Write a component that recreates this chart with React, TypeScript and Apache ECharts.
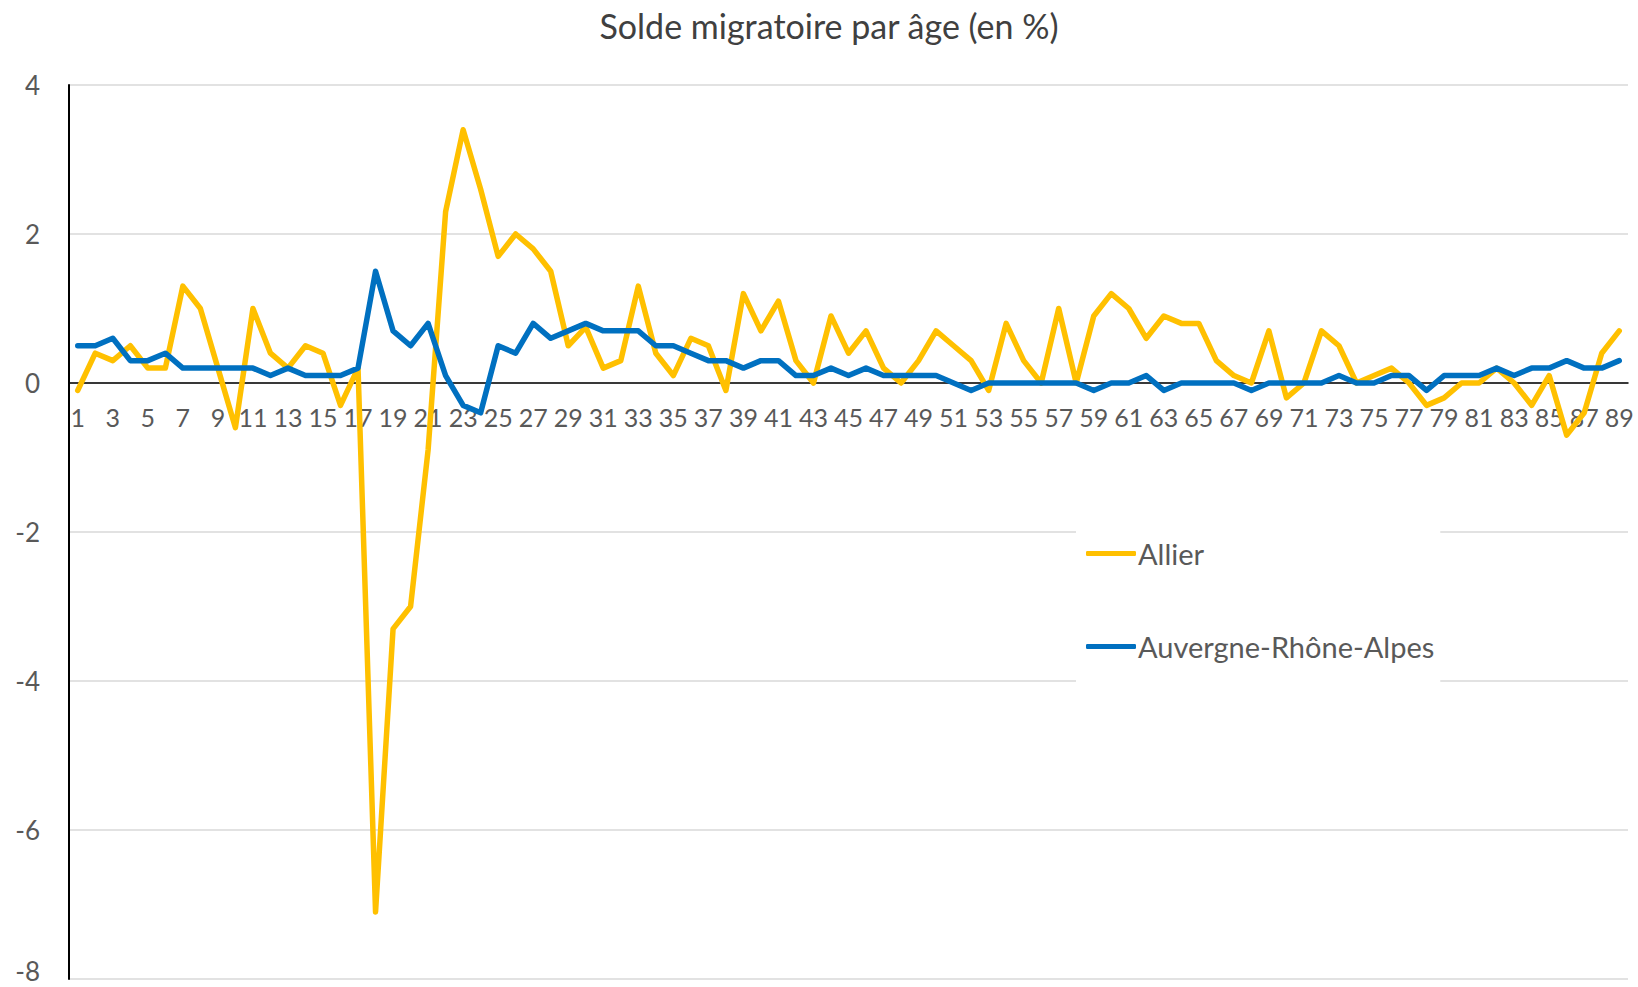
import React, { useEffect, useRef } from "react";
import * as echarts from "echarts";

const ages: string[] = Array.from({ length: 89 }, (_, i) => String(i + 1));

const allier: number[] = [
  -0.1, 0.4, 0.3, 0.5, 0.2, 0.2, 1.3, 1.0, 0.2, -0.6,
  1.0, 0.4, 0.2, 0.5, 0.4, -0.3, 0.2, -7.1, -3.3, -3.0,
  -0.9, 2.3, 3.4, 2.6, 1.7, 2.0, 1.8, 1.5, 0.5, 0.75,
  0.2, 0.3, 1.3, 0.4, 0.1, 0.6, 0.5, -0.1, 1.2, 0.7,
  1.1, 0.3, 0.0, 0.9, 0.4, 0.7, 0.2, 0.0, 0.3, 0.7,
  0.5, 0.3, -0.1, 0.8, 0.3, 0.0, 1.0, 0.0, 0.9, 1.2,
  1.0, 0.6, 0.9, 0.8, 0.8, 0.3, 0.1, 0.0, 0.7, -0.2,
  0.0, 0.7, 0.5, 0.0, 0.1, 0.2, 0.0, -0.3, -0.2, 0.0,
  0.0, 0.2, 0.0, -0.3, 0.1, -0.7, -0.4, 0.4, 0.7,
];

const auvergneRhoneAlpes: number[] = [
  0.5, 0.5, 0.6, 0.3, 0.3, 0.4, 0.2, 0.2, 0.2, 0.2,
  0.2, 0.1, 0.2, 0.1, 0.1, 0.1, 0.2, 1.5, 0.7, 0.5,
  0.8, 0.1, -0.3, -0.4, 0.5, 0.4, 0.8, 0.6, 0.7, 0.8,
  0.7, 0.7, 0.7, 0.5, 0.5, 0.4, 0.3, 0.3, 0.2, 0.3,
  0.3, 0.1, 0.1, 0.2, 0.1, 0.2, 0.1, 0.1, 0.1, 0.1,
  0.0, -0.1, 0.0, 0.0, 0.0, 0.0, 0.0, 0.0, -0.1, 0.0,
  0.0, 0.1, -0.1, 0.0, 0.0, 0.0, 0.0, -0.1, 0.0, 0.0,
  0.0, 0.0, 0.1, 0.0, 0.0, 0.1, 0.1, -0.1, 0.1, 0.1,
  0.1, 0.2, 0.1, 0.2, 0.2, 0.3, 0.2, 0.2, 0.3,
];

const seriesNames = ["Allier", "Auvergne-Rhône-Alpes"];
const seriesColors = ["#FFC000", "#0070C0"];
const titleText = "Solde migratoire par âge (en %)";

const FONT = "Lato";
const Y_MIN = -8;
const Y_MAX = 4;
const GRID_TOP = 85;
const GRID_BOTTOM = 8;
const CHART_H = 987;

export default function App() {
  const ref = useRef<HTMLDivElement>(null);

  useEffect(() => {
    if (!ref.current) return;
    const chart = echarts.init(ref.current, null, { renderer: "svg" });
    const plotH = CHART_H - GRID_TOP - GRID_BOTTOM;
    const zeroFromBottom = (plotH * (0 - Y_MIN)) / (Y_MAX - Y_MIN);
    chart.setOption({
      animation: false,
      backgroundColor: "#ffffff",
      textStyle: { fontFamily: FONT },
      title: {
        text: titleText,
        left: 829,
        textAlign: "center",
        top: 8,
        padding: 0,
        textStyle: {
          fontFamily: FONT,
          fontSize: 34,
          fontWeight: "normal",
          color: "#404040",
        },
      },
      legend: {
        orient: "vertical",
        left: 1076,
        top: 512,
        padding: [27, 6, 28, 10],
        backgroundColor: "#ffffff",
        itemWidth: 50,
        itemHeight: 5,
        itemGap: 64,
        icon: "roundRect",
        data: seriesNames,
        textStyle: {
          fontFamily: FONT,
          fontSize: 29,
          lineHeight: 28,
          color: "#595959",
          padding: [0, 0, 0, -3],
        },
      },
      grid: {
        left: 69,
        right: 10,
        top: GRID_TOP,
        bottom: GRID_BOTTOM,
        containLabel: false,
        outerBoundsMode: "none",
      },
      xAxis: {
        type: "category",
        data: ages,
        boundaryGap: true,
        position: "bottom",
        offset: -zeroFromBottom,
        axisLine: {
          show: true,
          onZero: false,
          lineStyle: { color: "#000000", width: 1.5 },
        },
        axisTick: { show: false },
        axisLabel: {
          interval: 1,
          fontFamily: FONT,
          fontSize: 25,
          color: "#595959",
          margin: 21,
        },
        splitLine: { show: false },
        z: 3,
      },
      yAxis: {
        type: "value",
        min: Y_MIN,
        max: Y_MAX,
        interval: 2,
        axisLine: { show: true, lineStyle: { color: "#000000", width: 2 } },
        axisTick: { show: false },
        axisLabel: {
          fontFamily: FONT,
          fontSize: 26,
          color: "#595959",
          margin: 29,
          formatter: (v: number) => (v === Y_MIN ? "{low|" + v + "}" : String(v)),
          rich: {
            low: {
              fontFamily: FONT,
              fontSize: 26,
              lineHeight: 6,
              color: "#595959",
              padding: [0, 0, 16, 0],
            },
          },
        },
        splitLine: { show: true, lineStyle: { color: "#D9D9D9", width: 1.5 } },
      },
      series: [
        {
          name: seriesNames[0],
          type: "line",
          data: allier,
          symbol: "none",
          color: seriesColors[0],
          lineStyle: { color: seriesColors[0], width: 5.5, join: "round", cap: "round" },
        },
        {
          name: seriesNames[1],
          type: "line",
          data: auvergneRhoneAlpes,
          symbol: "none",
          color: seriesColors[1],
          lineStyle: { color: seriesColors[1], width: 5.5, join: "round", cap: "round" },
        },
      ],
    });
    return () => chart.dispose();
  }, []);

  return (
    <div
      ref={ref}
      style={{ position: "fixed", left: 0, top: 0, width: 1638, height: 987 }}
    />
  );
}
